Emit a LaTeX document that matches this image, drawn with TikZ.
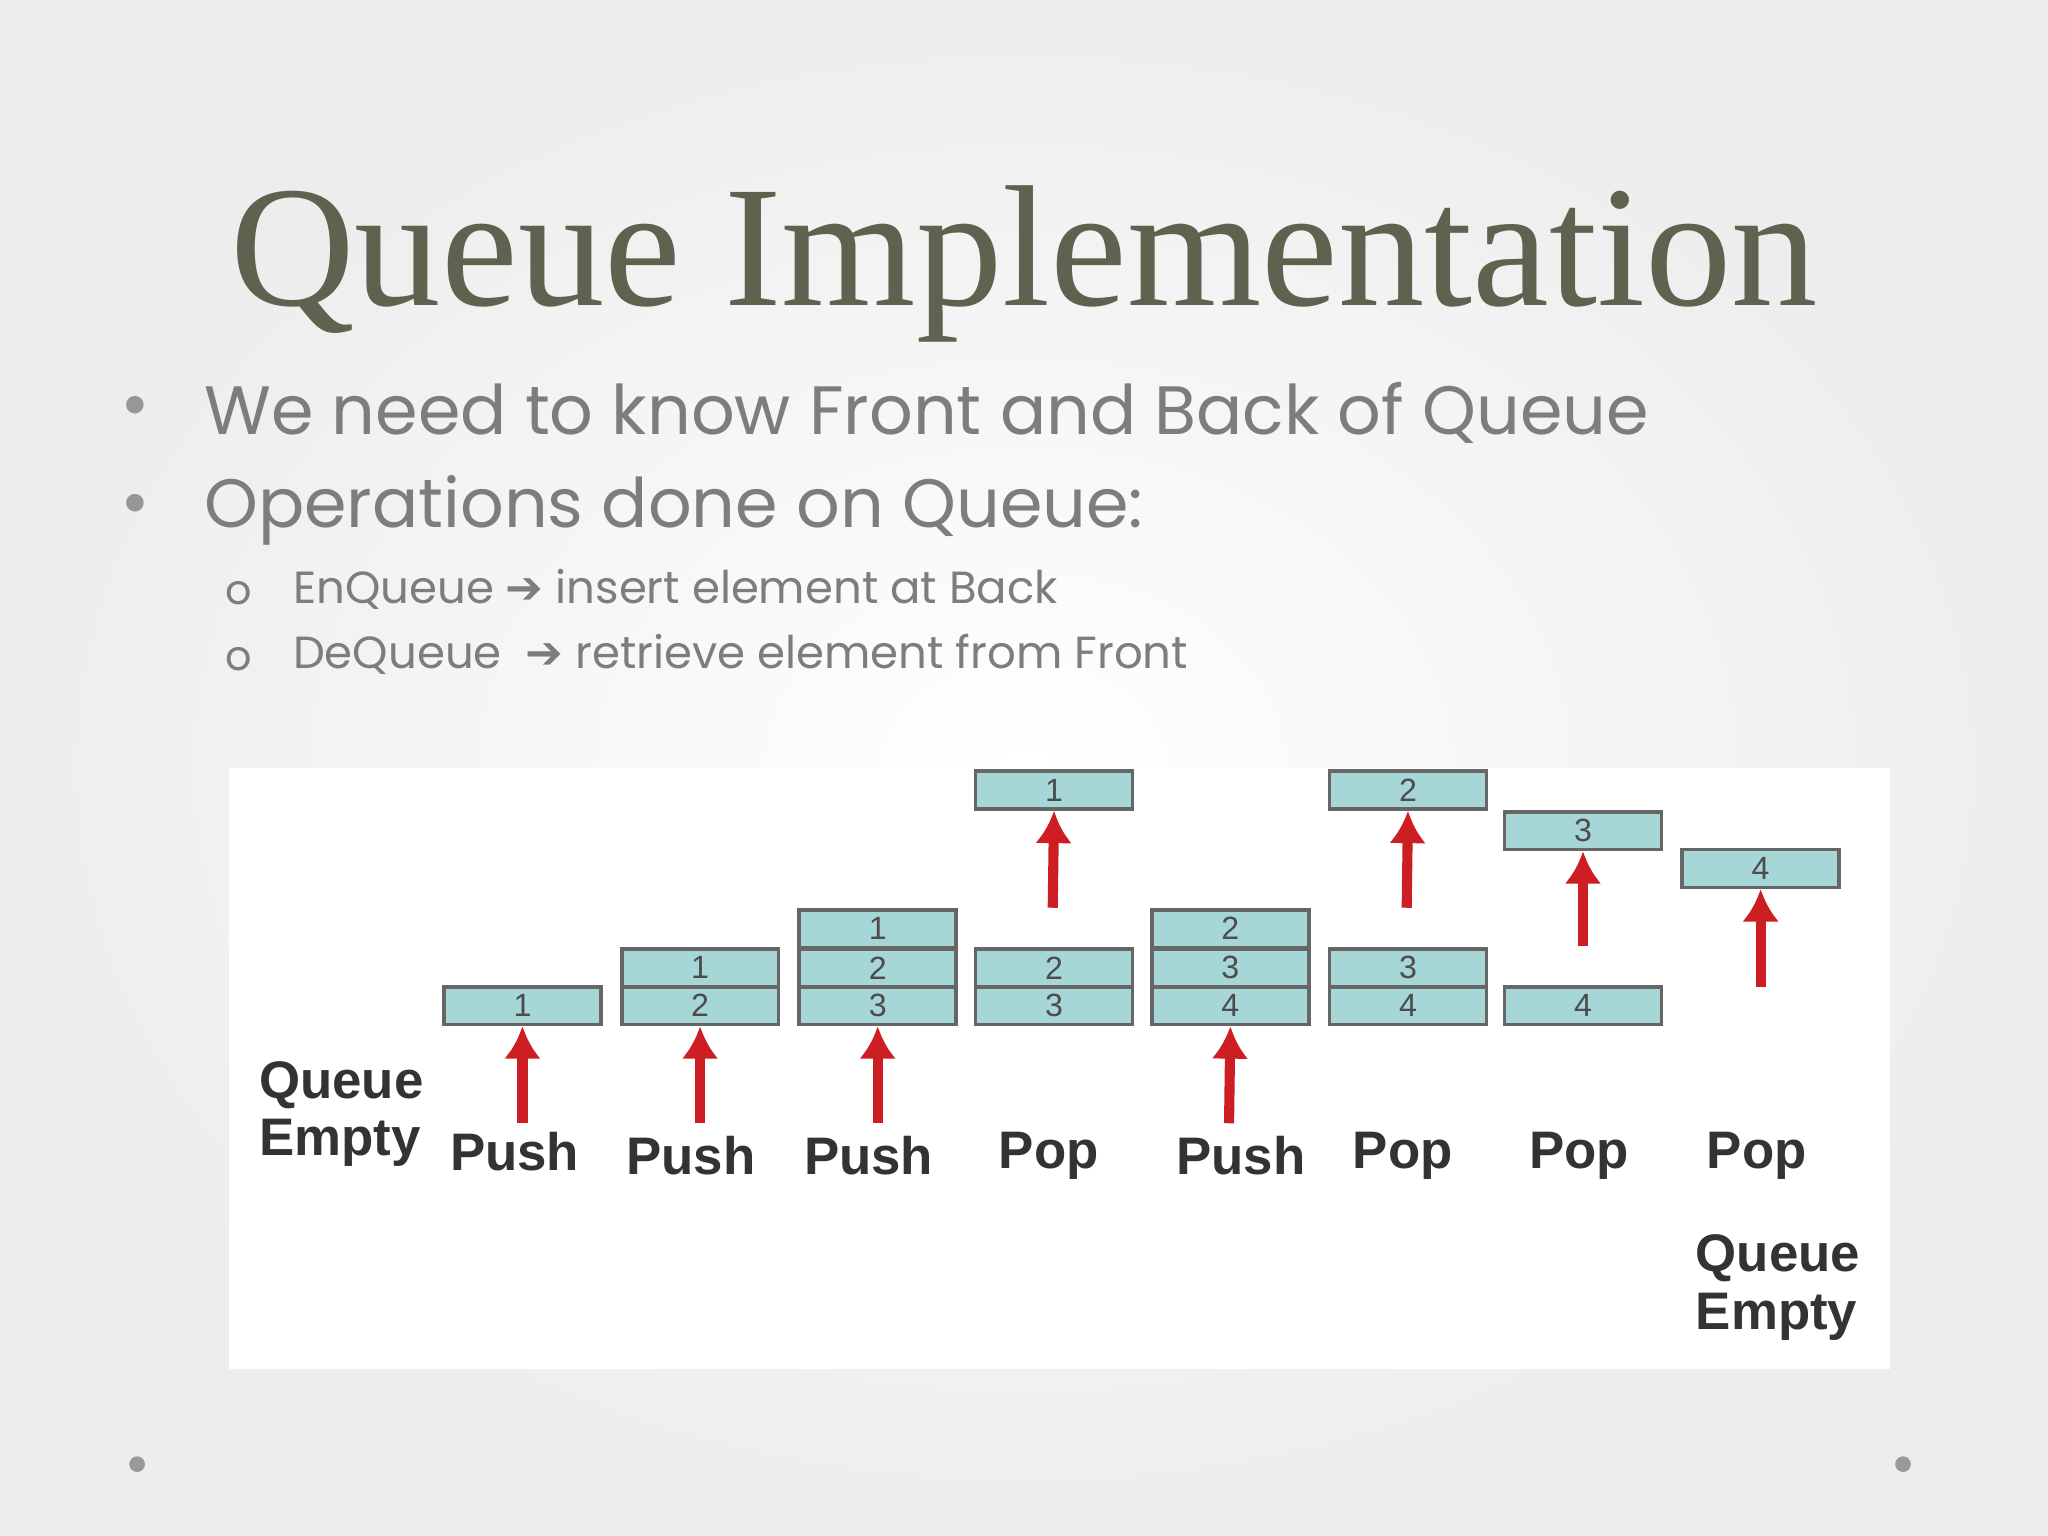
\documentclass[tikz,border=0pt]{standalone}
\usetikzlibrary{arrows.meta}
\usepackage{fontspec}
\setmainfont{Liberation Serif}
\newfontfamily\bodyf{Poppins}
\newfontfamily\arialf{Liberation Sans}
\newfontfamily\symf{DejaVu Sans}
\definecolor{titlec}{RGB}{96,98,80}
\definecolor{txtc}{RGB}{125,125,125}
\definecolor{cellc}{RGB}{166,214,214}
\definecolor{arrc}{RGB}{205,30,35}
\begin{document}
\begin{tikzpicture}[x=0.01cm,y=-0.01cm,
  cell/.style={draw=gray!80!black,fill=cellc,line width=0.8pt,minimum width=1.2cm,minimum height=0.29cm,inner sep=0pt,font=\arialf\fontsize{7}{7}\selectfont,text=gray!60!black},
  redarr/.style={draw=arrc,line width=2.2pt,-{Latex[length=7pt,width=8pt]}},
  lbl/.style={font=\arialf\fontsize{11.5}{13.5}\selectfont\bfseries,text=black!80,align=left}]
\useasboundingbox (0,0) rectangle (1568,1176);
\shade[inner color=white,outer color=gray!14] (0,0) rectangle (1568,1176);
\node[font=\fontsize{37.6}{40}\selectfont,text=titlec] (title) at (784,202) {Queue Implementation};
\node[text=txtc!80,font=\fontsize{16}{16}\selectfont] (b1) at (104,316) {•};
\node[text=txtc!80,font=\fontsize{16}{16}\selectfont] (b2) at (104,391) {•};
\node[anchor=west,text=txtc,font=\bodyf\fontsize{14.9}{16}\selectfont] (t1) at (144,316) {We need to know Front and Back of Queue};
\node[anchor=west,text=txtc,font=\bodyf\fontsize{14.9}{16}\selectfont] (t2) at (144,391) {Operations done on Queue:};
\node[text=txtc,font=\bodyf\fontsize{9}{9}\selectfont] (o1) at (183,454) {o};
\node[text=txtc,font=\bodyf\fontsize{9}{9}\selectfont] (o2) at (183,505) {o};
\node[anchor=west,text=txtc,font=\bodyf\fontsize{9.8}{11}\selectfont] (s1) at (212,451) {EnQueue {\symf ➔} insert element at Back};
\node[anchor=west,text=txtc,font=\bodyf\fontsize{9.8}{11}\selectfont] (s2) at (212,501) {DeQueue \ {\symf ➔} retrieve element from Front};
\fill[white] (175,588) rectangle (1447,1048);
\node[cell] (a1) at (400,770) {1};
\node[cell] (b21) at (536,741) {1}; \node[cell] (b22) at (536,770) {2};
\node[cell] (c1) at (672,711) {1}; \node[cell] (c2) at (672,741) {2}; \node[cell] (c3) at (672,770) {3};
\node[cell] (d0) at (807,605) {1}; \node[cell] (d1) at (807,741) {2}; \node[cell] (d2) at (807,770) {3};
\node[cell] (e1) at (942,711) {2}; \node[cell] (e2) at (942,741) {3}; \node[cell] (e3) at (942,770) {4};
\node[cell] (f0) at (1078,605) {2}; \node[cell] (f1) at (1078,741) {3}; \node[cell] (f2) at (1078,770) {4};
\node[cell] (g0) at (1212,636) {3}; \node[cell] (g1) at (1212,770) {4};
\node[cell] (h0) at (1348,665) {4};
\coordinate (pa) at (400,860); \coordinate (pb) at (536,860); \coordinate (pc) at (672,860); \coordinate (pe) at (941,860);
\draw[redarr] (pa) -- (a1.south);
\draw[redarr] (pb) -- (b22.south);
\draw[redarr] (pc) -- (c3.south);
\draw[redarr] (pe) -- (e3.south);
\coordinate (qd) at (806,695); \coordinate (qf) at (1077,695); \coordinate (qg) at (1212,724); \coordinate (qh) at (1348,756);
\draw[redarr] (qd) -- (d0.south);
\draw[redarr] (qf) -- (f0.south);
\draw[redarr] (qg) -- (g0.south);
\draw[redarr] (qh) -- (h0.south);
\node[lbl,anchor=north west] (l0) at (186,800) {Queue\\[-1pt]Empty};
\node[lbl] (l1) at (394,882) {Push};
\node[lbl] (l2) at (529,885) {Push};
\node[lbl] (l3) at (665,885) {Push};
\node[lbl] (l4) at (803,885) {Pop};
\node[lbl] (l5) at (950,885) {Push};
\node[lbl] (l6) at (1074,885) {Pop};
\node[lbl] (l7) at (1209,885) {Pop};
\node[lbl] (l8) at (1345,885) {Pop};
\node[lbl,anchor=north west] (l9) at (1286,933) {Queue\\[-1pt]Empty};
\fill[gray!80] (105,1121) circle (6);
\fill[gray!80] (1457,1121) circle (6);
\end{tikzpicture}
\end{document}
